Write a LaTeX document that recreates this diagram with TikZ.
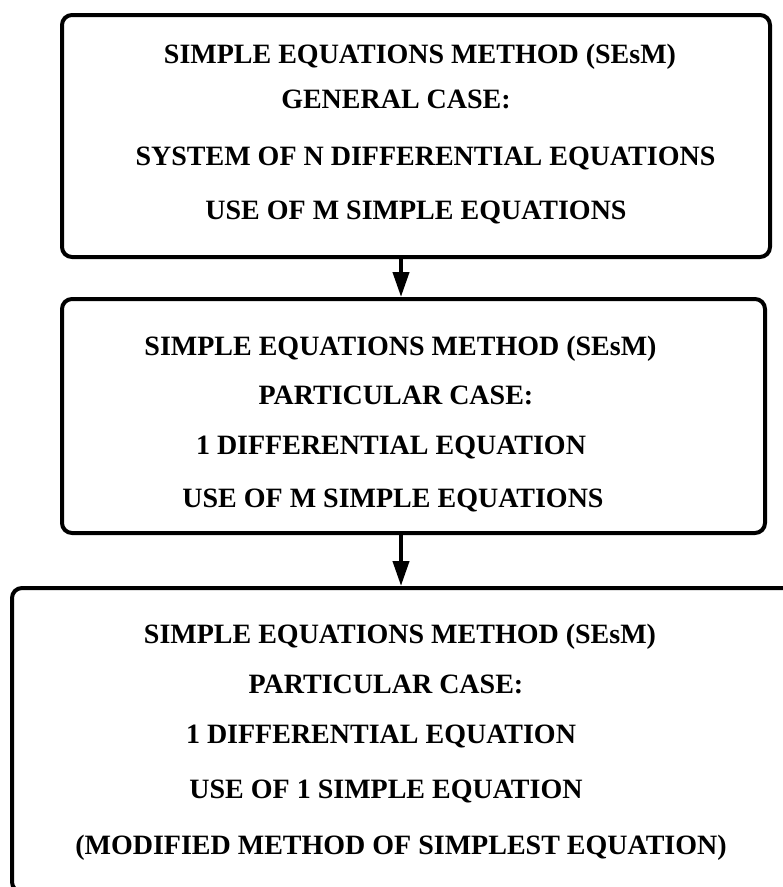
\documentclass[tikz,border=0pt]{standalone}
\usepackage{fontspec}
\setmainfont{Liberation Serif}
\usetikzlibrary{arrows.meta}
\tikzset{
  box/.style={draw=black, line width=4pt, rounded corners=10pt, rectangle, inner sep=0pt},
  txt/.style={anchor=base, inner sep=0pt, font=\fontsize{28}{34}\selectfont\bfseries},
  arr/.style={line width=4pt, -{Triangle[length=25pt, width=16pt]}}
}
\begin{document}
\begin{tikzpicture}[x=1pt,y=-1pt]
\useasboundingbox (0,0) rectangle (783,887);
\clip (0,0) rectangle (783,887);
% boxes
\node[box, minimum width=708pt, minimum height=242pt] (b1) at (416,136) {};
\node[box, minimum width=703pt, minimum height=234pt] (b2) at (413.5,416) {};
\node[box, minimum width=818pt, minimum height=304pt] (b3) at (421,740) {};
% box 1 text
\node[txt] (t11) at (420,63.8) {SIMPLE EQUATIONS METHOD (SEsM)};
\node[txt] (t12) at (396,108.8) {GENERAL CASE:};
\node[txt] (t13) at (425.5,165.3) {SYSTEM OF N DIFFERENTIAL EQUATIONS};
\node[txt] (t14) at (416,219.3) {USE OF M SIMPLE EQUATIONS};
% box 2 text
\node[txt] (t21) at (400.5,355.3) {SIMPLE EQUATIONS METHOD (SEsM)};
\node[txt] (t22) at (396,404.3) {PARTICULAR CASE:};
\node[txt] (t23) at (391,454.8) {1 DIFFERENTIAL EQUATION};
\node[txt] (t24) at (393,507.8) {USE OF M SIMPLE EQUATIONS};
% box 3 text
\node[txt] (t31) at (400,643.3) {SIMPLE EQUATIONS METHOD (SEsM)};
\node[txt] (t32) at (386,693.3) {PARTICULAR CASE:};
\node[txt] (t33) at (381,743.3) {1 DIFFERENTIAL EQUATION};
\node[txt] (t34) at (386,798.3) {USE OF 1 SIMPLE EQUATION};
\node[txt] (t35) at (401,854.3) {(MODIFIED METHOD OF SIMPLEST EQUATION)};
% arrows
\coordinate (ax) at (401,0);
\draw[arr] (b1.south -| ax) -- (b2.north -| ax);
\draw[arr] (b2.south -| ax) -- (b3.north -| ax);
\end{tikzpicture}
\end{document}
